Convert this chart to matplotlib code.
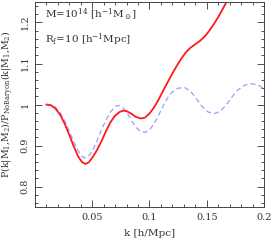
import numpy as np
import matplotlib
matplotlib.use("Agg")
import matplotlib.pyplot as plt
from matplotlib.ticker import MultipleLocator, FormatStrFormatter

plt.rcParams['font.family'] = ['DejaVu Serif']
plt.rcParams['mathtext.fontset'] = 'dejavuserif'

# ratio with baryons (red, solid)
k_bar = [0.010, 0.014, 0.018, 0.022, 0.026, 0.030, 0.034, 0.038, 0.041, 0.044,
         0.047, 0.050, 0.054, 0.058, 0.062, 0.066, 0.070, 0.074, 0.077, 0.080,
         0.084, 0.088, 0.092, 0.096, 0.100, 0.104, 0.108, 0.112, 0.116, 0.120,
         0.124, 0.128, 0.132, 0.136, 0.140, 0.144, 0.148, 0.152, 0.156, 0.160,
         0.164, 0.168]
r_bar = [1.000, 0.998, 0.990, 0.975, 0.953, 0.926, 0.897, 0.872, 0.860, 0.855,
         0.859, 0.870, 0.888, 0.910, 0.935, 0.957, 0.973, 0.982, 0.985, 0.984,
         0.978, 0.970, 0.966, 0.968, 0.978, 0.993, 1.012, 1.034, 1.055, 1.076,
         1.095, 1.113, 1.128, 1.139, 1.147, 1.155, 1.165, 1.179, 1.195, 1.213,
         1.233, 1.254]

# comparison (blue, dashed)
k_cmp = [0.010, 0.014, 0.018, 0.022, 0.026, 0.030, 0.034, 0.038, 0.041, 0.043,
         0.046, 0.050, 0.054, 0.058, 0.062, 0.066, 0.070, 0.073, 0.076, 0.080,
         0.084, 0.088, 0.092, 0.096, 0.100, 0.104, 0.108, 0.112, 0.116, 0.120,
         0.125, 0.131, 0.136, 0.141, 0.146, 0.151, 0.157, 0.162, 0.167, 0.172,
         0.177, 0.183, 0.189, 0.195, 0.200]
r_cmp = [1.000, 0.999, 0.993, 0.980, 0.960, 0.935, 0.908, 0.886, 0.874, 0.870,
         0.872, 0.886, 0.910, 0.938, 0.962, 0.982, 0.995, 0.998, 0.995, 0.982,
         0.962, 0.945, 0.935, 0.932, 0.938, 0.953, 0.974, 0.997, 1.017, 1.031,
         1.040, 1.041, 1.032, 1.014, 0.995, 0.982, 0.978, 0.984, 0.999, 1.018,
         1.035, 1.047, 1.051, 1.047, 1.039]

fig = plt.figure(figsize=(2.73, 2.48), dpi=100)
ax = fig.add_axes([0.128, 0.165, 0.839, 0.827])

ax.plot(k_cmp, r_cmp, color='#9a9cff', lw=0.9, dashes=(4, 2.5))
ax.plot(k_bar, r_bar, color='#ff1a1a', lw=1.3)

ax.set_xlim(0, 0.2)
ax.set_ylim(0.75, 1.25)
ax.set_xticks([0.05, 0.1, 0.15, 0.2])
ax.xaxis.set_major_formatter(FormatStrFormatter('%g'))
ax.xaxis.set_minor_locator(MultipleLocator(0.01))
ax.yaxis.set_major_locator(MultipleLocator(0.1))
ax.yaxis.set_major_formatter(FormatStrFormatter('%g'))
ax.yaxis.set_minor_locator(MultipleLocator(0.02))
ax.tick_params(which='both', direction='in', top=True, right=True,
               labelsize=7, width=0.6, colors='#333333', pad=4)
ax.tick_params(which='major', length=5)
ax.tick_params(which='minor', length=2.5)
plt.setp(ax.get_yticklabels(), rotation=90, va='center')
for s in ax.spines.values():
    s.set_linewidth(0.7)
    s.set_color('#444444')

ax.set_xlabel('k [h/Mpc]', fontsize=7.5, color='#333333', labelpad=5)
ax.set_ylabel(r'P(k|M$_1$,M$_2$)/P$_{\rm NoBaryon}$(k|M$_1$,M$_2$)',
              fontsize=6.8, color='#333333')
ax.yaxis.set_label_coords(-0.085, 0.5)

ax.text(0.045, 0.935, r'M=10$^{14}$ [h$^{-1}$M$_\odot$]', transform=ax.transAxes,
        fontsize=7.5, color='#333333', va='center')
ax.text(0.045, 0.815, r'R$_{\rm f}$=10 [h$^{-1}$Mpc]', transform=ax.transAxes,
        fontsize=7.5, color='#333333', va='center')

fig.savefig('out.png', dpi=100)
